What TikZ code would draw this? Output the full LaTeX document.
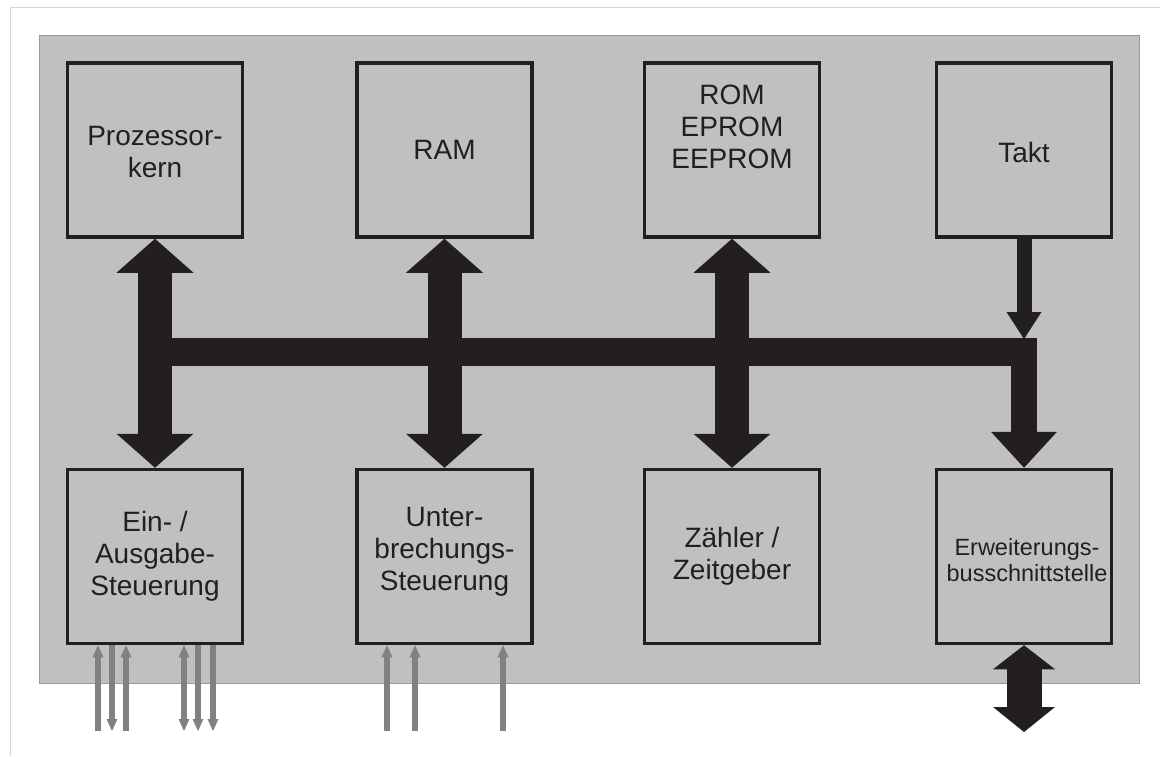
\documentclass[tikz,border=0pt]{standalone}
\usepackage{fontspec}
\setmainfont{Liberation Sans}
\usetikzlibrary{arrows.meta}
\definecolor{panel}{HTML}{C0C0C0}
\definecolor{panelline}{HTML}{9A9A9A}
\definecolor{ink}{HTML}{231F20}
\definecolor{wire}{HTML}{818181}
\definecolor{frame}{HTML}{D4D4D4}
\begin{document}
\begin{tikzpicture}[x=1pt,y=-1pt,
  box/.style={draw=ink, line width=3.5pt, minimum width=175pt, minimum height=174pt, inner sep=0pt},
  txt/.style={text=ink, font=\fontsize{28}{32}\selectfont, align=center, inner sep=0pt},
  smalltxt/.style={text=ink, font=\fontsize{23.5}{26}\selectfont, align=center, inner sep=0pt},
  fat/.style={draw=ink, line width=34pt, line cap=butt,
    {Triangle[width=77pt,length=34pt,line width=0pt]}-{Triangle[width=77pt,length=34pt,line width=0pt]}},
  bus/.style={draw=ink, line width=28pt, line cap=butt},
  taktarrow/.style={draw=ink, line width=15pt, line cap=butt, -{Triangle[width=35pt,length=27pt,line width=0pt]}},
  busdown/.style={draw=ink, line width=26pt, line cap=butt, -{Triangle[width=66pt,length=36pt,line width=0pt]}},
  extarrow/.style={draw=ink, line width=35pt, line cap=butt,
    {Triangle[width=62pt,length=24pt,line width=0pt]}-{Triangle[width=62pt,length=25pt,line width=0pt]}},
  pin/.style={draw=wire, line width=6pt, line cap=butt},
  pinin/.style={pin, -{Triangle[width=11pt,length=12pt,line width=0pt]}},
  pinout/.style={pin, {Triangle[width=11pt,length=12pt,line width=0pt]}-},
  pinboth/.style={pin, {Triangle[width=11pt,length=12pt,line width=0pt]}-{Triangle[width=11pt,length=12pt,line width=0pt]}}
]
\useasboundingbox (0,0) rectangle (1160,756);
% page frame (top and left visible)
\draw[frame, line width=1pt] (10,756) -- (10,7) -- (1160,7);
% chip panel
\filldraw[fill=panel, draw=panelline, line width=1pt] (39,35) rectangle (1139,683);

% boxes
\node[box] (cpu) at (155,150) {};
\node[box] (ram) at (444.5,150) {};
\node[box] (rom) at (732,150) {};
\node[box] (clk) at (1024,150) {};
\node[box] (io)  at (155,556.5) {};
\node[box] (irq) at (444.5,556.5) {};
\node[box] (tmr) at (732,556.5) {};
\node[box] (ext) at (1024,556.5) {};

% texts
\node[txt] (tcpu) at (155,152) {Prozessor-\\kern};
\node[txt] (tram) at (444.5,150) {RAM};
\node[txt] (trom) at (732,127) {ROM\\EPROM\\EEPROM};
\node[txt] (tclk) at (1024,152) {Takt};
\node[txt] (tio)  at (155,556) {Ein- /\\Ausgabe-\\Steuerung};
\node[txt] (tirq) at (444.5,552) {Unter-\\brechungs-\\Steuerung};
\node[txt] (ttmr) at (732,556) {Zähler /\\Zeitgeber};
\node[smalltxt] (text) at (1027,560) {Erweiterungs-\\busschnittstelle};

% bus
\coordinate (busl) at (139,352);
\coordinate (busr) at (1037,352);
\coordinate (busj) at (1024,339);
\draw[bus] (busl) -- (busr);
\draw[fat] (cpu.south) -- (io.north);
\draw[fat] (ram.south) -- (irq.north);
\draw[fat] (rom.south) -- (tmr.north);
\draw[taktarrow] (clk.south) -- (busj);
\draw[busdown] (busj) -- (ext.north);

% external bus
\coordinate (extend) at (1024,732);
\draw[extarrow] (ext.south) -- (extend);

% I/O pins
\foreach \x/\s in {98/pinin,112/pinout,126/pinin,184/pinboth,198/pinout,213/pinout}{
  \coordinate (p) at (\x,731);
  \draw[\s] (p) -- (p |- io.south);
}
\foreach \x in {387,415,503}{
  \coordinate (q) at (\x,731);
  \draw[pinin] (q) -- (q |- irq.south);
}
\end{tikzpicture}
\end{document}
